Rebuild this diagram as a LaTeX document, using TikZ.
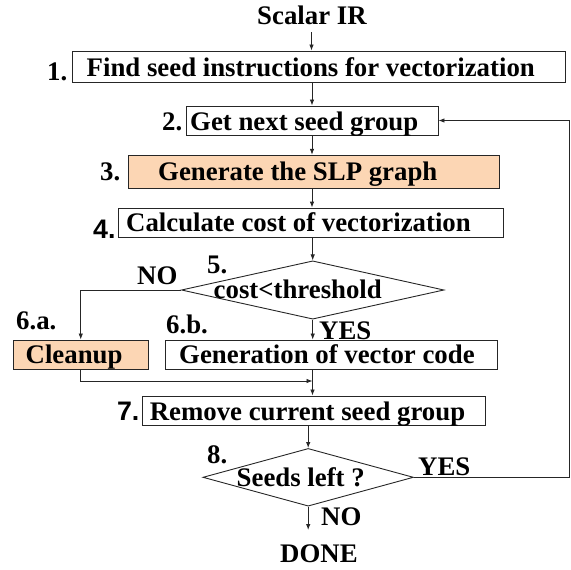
\documentclass[tikz,border=0pt]{standalone}
\usepackage{fontspec}
\setmainfont{Liberation Serif}
\newfontfamily\lsans{Liberation Sans}
\usetikzlibrary{shapes.geometric,arrows.meta}
\definecolor{peach}{RGB}{252,214,180}
\begin{document}
\begin{tikzpicture}[x=1pt,y=-1pt,
  every node/.style={font=\fontsize{26.8}{30}\selectfont\bfseries},
  box/.style={draw=black!85, line width=0.9pt, rectangle, inner sep=0pt},
  obox/.style={box, fill=peach},
  dia/.style={draw=black!85, line width=0.9pt, diamond, inner sep=0pt},
  txt/.style={anchor=base west, inner sep=0pt},
  arr/.style={draw=black!85, line width=0.8pt, -{Latex[length=6pt,width=4.5pt]}},
  ln/.style={draw=black!85, line width=0.8pt}]
\useasboundingbox (0,0) rectangle (571,570);
% boxes
\node[box, minimum width=493pt, minimum height=31pt] (b1) at (318.5,66.5) {};
\node[box, minimum width=252pt, minimum height=29pt] (b2) at (312,120.5) {};
\node[obox, minimum width=371.6pt, minimum height=32.7pt] (b3) at (313.8,171.6) {};
\node[box, minimum width=384.4pt, minimum height=29.7pt] (b4) at (310.8,222.9) {};
\node[dia, minimum width=262.6pt, minimum height=58.3pt] (d5) at (312.7,290) {};
\node[obox, minimum width=134.5pt, minimum height=29pt] (b6a) at (80.75,354.5) {};
\node[box, minimum width=331.3pt, minimum height=29pt] (b6b) at (331.35,354.5) {};
\node[box, minimum width=343.4pt, minimum height=29pt] (b7) at (313.7,410.5) {};
\node[dia, minimum width=210.5pt, minimum height=57.7pt] (d8) at (308.2,477.3) {};
% texts
\node[txt] (sir) at (257,24) {Scalar IR};
\node[txt] (t1) at (86.5,76.7) {Find seed instructions for vectorization};
\node[txt] (n1) at (47,80) {1.};
\node[txt] (t2) at (190,130) {Get next seed group};
\node[txt] (n2) at (162,130) {2.};
\node[txt] (t3) at (158,180) {Generate the SLP graph};
\node[txt] (n3) at (100,180) {3.};
\node[txt] (t4) at (126,231.7) {Calculate cost of vectorization};
\node[txt, font=\fontsize{26.8}{30}\selectfont\lsans\bfseries] (n4) at (93,238) {4.};
\node[txt] (t5) at (213.5,298) {cost<threshold};
\node[txt] (n5) at (207,273) {5.};
\node[txt] (no5) at (137,284) {NO};
\node[txt] (t6a) at (25.5,363) {Cleanup};
\node[txt] (n6a) at (16,329) {6.a.};
\node[txt] (t6b) at (179,363) {Generation of vector code};
\node[txt] (n6b) at (166,333) {6.b.};
\node[txt] (yes5) at (319,339) {YES};
\node[txt] (t7) at (149.6,420) {Remove current seed group};
\node[txt, font=\fontsize{26.8}{30}\selectfont\lsans\bfseries] (n7) at (116.8,420) {7.};
\node[txt] (t8) at (236.5,486.7) {Seeds left ?};
\node[txt] (n8) at (207,463) {8.};
\node[txt] (yes8) at (418,475) {YES};
\node[txt] (no8) at (321,525) {NO};
\node[txt] (done) at (280,562.7) {DONE};
% coordinates
\coordinate (s0) at (311.5,32);
\coordinate (j) at (312.5,381);
\coordinate (rc) at (569,120.5);
\coordinate (e8) at (308.2,530);
% connectors
\draw[arr] (s0) -- (s0 |- b1.north);
\draw[arr] (b2.north |- b1.south) -- (b2.north);
\draw[arr] (b2.south) -- (b2.south |- b3.north);
\draw[arr] (b2.south |- b3.south) -- (b2.south |- b4.north);
\draw[arr] (d5.north |- b4.south) -- (d5.north);
\draw[arr] (d5.south) -- (d5.south |- b6b.north);
\draw[arr] (d5.west) -| (b6a.north);
\draw[arr] (b6a.south) |- (j);
\draw[arr] (j |- b6b.south) -- (j |- b7.north);
\draw[arr] (d8.north |- b7.south) -- (d8.north);
\draw[arr] (d8.east) -| (rc) -- (b2.east);
\draw[arr] (d8.south) -- (e8);
\end{tikzpicture}
\end{document}
